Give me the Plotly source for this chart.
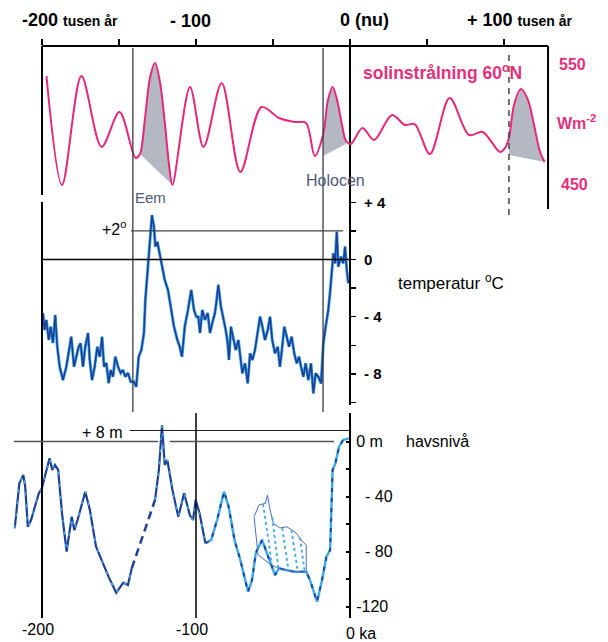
import plotly.graph_objects as go

W, H = 608, 642
def px(x): return x / W
def py(y): return 1 - y / H

# ---------------- data ----------------
# Summer insolation at 60°N (W m-2) vs time in ka (negative = past)
ins_ka = [-197.1, -187.0, -174.4, -161.3, -149.7, -139.2, -136.4, -133.1, -129.9, -126.6,
          -123.4, -120.1, -117.5, -115.3, -103.9, -95.1, -83.3, -71.2, -57.4, -46.1,
          -36.0, -28.6, -22.9, -17.5, -14.3, -11.3, -8.4, -5.2, -2.6, 0.5,
          8.1, 15.6, 27.3, 35.7, 42.0, 51.9, 64.7, 77.3, 86.1, 97.4,
          100.6, 103.2, 106.5, 111.0, 115.6, 119.5, 123.4, 126.4]
ins_w = [540.8, 450.0, 540.8, 481.7, 510.8, 472.5, 475.8, 505.8, 539.2, 551.7,
         535.8, 500.0, 466.7, 450.0, 531.7, 481.7, 535.0, 460.8, 515.0, 505.8,
         502.5, 501.7, 474.2, 491.7, 520.8, 531.7, 520.8, 500.0, 486.7, 484.2,
         497.5, 487.5, 508.3, 500.0, 500.8, 475.8, 522.5, 491.7, 494.2, 477.5,
         480.8, 489.2, 516.7, 530.0, 520.8, 500.0, 477.5, 469.2]

# shaded warm periods: curve span (ka) and chord end points (ka, W)
eem_span = (-136.4, -115.3)
holo_span = (-17.5, -2.6); holo_chord = [(-17.5, 474.2), (-2.6, 484.2)]
fut_span = (103.2, 126.4); fut_chord = [(103.2, 475.0)]

# Temperature (°C relative to today)
temp_ka = [-199.4, -198.3, -197.2, -195.6, -194.4, -192.9, -191.4, -190.1, -188.5, -186.4,
           -184.2, -182.0, -181.0, -179.2, -177.7, -176.2, -174.9, -173.4, -171.9, -170.1,
           -169.0, -167.5, -165.8, -164.1, -162.5, -161.0, -159.7, -158.2, -156.7, -155.4,
           -153.9, -152.4, -150.6, -148.9, -147.4, -145.9, -144.2, -142.4, -140.3, -138.8,
           -137.2, -135.5, -133.8, -132.9, -131.2, -130.1, -128.6, -127.3, -126.4, -125.1,
           -123.6, -122.1, -120.3, -118.2, -116.0, -114.3, -112.1, -110.6, -109.1, -107.3,
           -105.2, -103.1, -101.3, -99.8, -98.5, -97.4, -95.9, -94.2, -92.4, -90.9,
           -89.4, -87.7, -86.6, -85.5, -83.8, -82.3, -80.7, -79.4, -78.6, -77.3,
           -75.8, -74.2, -72.5, -71.4, -69.9, -68.2, -66.4, -64.9, -63.4, -61.7,
           -59.9, -58.4, -56.9, -55.2, -53.4, -51.9, -50.5, -48.7, -46.9, -45.5,
           -44.0, -42.7, -41.1, -39.6, -37.9, -36.2, -34.6, -33.1, -31.8, -30.3,
           -28.8, -27.1, -25.3, -23.8, -22.3, -20.6, -18.8, -17.3, -15.8, -14.1,
           -13.0, -11.9, -10.8, -9.7, -8.6, -7.6, -5.8, -4.4, -3.2, -2.1, -1.1]
temp_c = [-3.74, -4.93, -4.23, -5.63, -4.70, -5.84, -3.88, -6.10, -7.50, -8.43,
          -7.50, -5.84, -5.40, -7.50, -6.80, -6.10, -5.86, -7.50, -6.10, -5.14,
          -7.03, -8.43, -7.50, -6.10, -6.80, -5.40, -7.50, -7.24, -8.64, -7.73,
          -8.20, -6.80, -7.50, -7.94, -7.73, -8.20, -7.94, -8.55, -8.55, -8.90,
          -6.80, -6.33, -5.14, -2.83, -0.50, 1.36, 3.11, 2.29, 0.90, 1.24,
          0.43, -0.50, -1.43, -2.13, -3.53, -4.70, -5.63, -6.10, -6.80, -4.70,
          -3.53, -2.13, -3.53, -4.00, -4.00, -5.14, -3.53, -4.23, -3.74, -5.14,
          -4.44, -3.74, -2.83, -1.78, -3.30, -4.00, -4.93, -5.86, -7.03, -4.70,
          -5.63, -6.33, -5.63, -6.56, -7.96, -7.26, -8.66, -6.56, -7.03, -6.33,
          -5.16, -4.00, -4.70, -5.63, -4.93, -4.00, -5.63, -6.56, -6.10, -7.50,
          -6.10, -4.70, -5.40, -6.10, -5.40, -6.56, -7.26, -6.80, -7.50, -8.20,
          -7.26, -8.43, -7.26, -9.36, -7.96, -8.20, -8.66, -5.86, -4.70, -3.53,
          -2.36, -1.20, 0.43, -0.27, 1.94, -0.50, 0.20, -0.27, 0.90, -0.73, -1.66]
n = min(len(temp_ka), len(temp_c)); temp_ka, temp_c = temp_ka[:n], temp_c[:n]

# Sea level (m)
sea_ka = [-217.7, -216.0, -214.7, -212.1, -210.9, -209.2, -207.1, -202.1, -200.1, -197.6,
          -195.1, -193.3, -191.6, -189.5, -187.0, -184.0, -180.7, -179.0, -176.9, -171.9,
          -168.9, -164.9, -161.3, -156.8, -151.8, -147.2, -144.2, -141.7, -126.6, -124.1,
          -122.1, -120.3, -118.6, -115.3, -111.5, -107.7, -104.0, -101.9, -100.2, -97.7,
          -93.9, -90.1, -86.3, -81.8, -78.8, -75.0, -71.2, -66.2, -63.6, -61.2,
          -57.1, -53.2, -51.1, -48.7, -46.1, -41.6, -36.0, -28.4, -26.0, -21.4,
          -18.4, -15.3, -12.9, -11.3, -9.5, -7.1, -4.5, -0.8]
sea_m = [-63.1, -41.3, -30.4, -24.4, -32.9, -62.0, -57.1, -37.7, -34.0, -23.1,
         -12.2, -20.7, -17.1, -20.7, -52.2, -80.1, -54.7, -64.4, -57.1, -36.5,
         -49.8, -76.5, -86.2, -98.3, -110.0, -102.7, -104.4, -92.2, -42.5, -20.7,
         12.0, -17.1, -13.5, -35.3, -54.7, -37.7, -53.5, -57.1, -42.5, -52.2,
         -74.0, -71.6, -57.1, -36.5, -47.4, -71.6, -86.2, -109.2, -100.7, -81.1,
         -71.6, -82.5, -89.8, -97.1, -92.2, -93.5, -94.7, -94.7, -100.7, -116.5,
         -102.0, -83.8, -78.9, -20.7, -15.9, -3.8, 1.1, 2.3]
gap_span = (-141.7, -126.6)     # uncertain (dashed) part
light_from = -93.9              # light-blue dashed record from here on

# uncertainty band (ka, m)
band_ka = [-62.3, -59.1, -54.9, -53.6, -51.9, -49.8, -45.5, -41.0, -37.7, -34.7, -31.8, -28.4,
           -28.4, -36.0, -41.6, -46.1, -51.1, -55.2, -59.7, -62.3]
band_m = [-54.7, -46.2, -44.9, -38.9, -49.8, -59.5, -62.9, -62.0, -64.4, -66.8, -71.6, -75.3,
          -94.7, -94.7, -93.5, -92.2, -89.8, -86.2, -82.5, -54.7]
hatch = [  # dashed lines inside band
    ([-56.5, -54.5, -52.5, -51.0], [-45.5, -60.0, -75.0, -89.0]),
    ([-50.5, -48.5, -46.5], [-55.0, -75.0, -92.0]),
    ([-44.0, -42.0, -40.0], [-63.0, -78.0, -93.0]),
    ([-38.0, -36.0, -34.0], [-64.5, -80.0, -94.0]),
    ([-32.5, -31.0, -29.5], [-70.0, -82.0, -94.0]),
]

# reference marks (ka)
EEM, HOLO, FUT, RIGHT = -141.0, -17.5, 103.2, 128.6
top_ticks = [-200, -150, -100, -50, 0, 50, 100]
temp_ticks = [-10, -8, -6, -4, -2, 0, 2, 4]
temp_text = ['', '- 8', '', '- 4', '', '0', '', '+ 4']
sea_ticks = [-120, -100, -80, -60, -40, -20, 0]
sea_text = ['-120', '', '\u00a0\u00a0- 80', '', '\u00a0\u00a0- 40', '', '0 m']

# ---------------- scales ----------------
K = 1.54            # px per ka
X0 = 350            # px of 0 ka
x_range = [(0 - X0) / K, (W - X0) / K]
ins_range = [550 - (H - 65) / 1.2, 550 + 65 / 1.2]
TP = 14.3           # px per °C, 0 at y=259.5
SP = 1.375          # px per m, 0 at y=441.5

PINK = '#e6287a'
PINKT = '#e5307c'
DARK = '#1e3f96'
LIGHT = '#3fa9e6'
GREYB = '#4d5877'
FONT = 'Liberation Sans, Arial, sans-serif'

fig = go.Figure()

# insolation shading
def seg(lo, hi):
    pts = [(k, w) for k, w in zip(ins_ka, ins_w) if lo - 1e-6 <= k <= hi + 1e-6]
    return pts
polys = [seg(*eem_span),
         [holo_chord[0]] + seg(*holo_span) + [holo_chord[1]],
         fut_chord + seg(*fut_span)]
for p in polys:
    fig.add_trace(go.Scatter(x=[a for a, b in p], y=[b for a, b in p], xaxis='x2', yaxis='y2',
                             fill='toself', fillcolor='#b3b8c2', line=dict(width=0),
                             mode='lines', hoverinfo='skip', showlegend=False))
fig.add_trace(go.Scatter(x=ins_ka, y=ins_w, xaxis='x2', yaxis='y2', mode='lines',
                         line=dict(color=PINK, width=2, shape='spline', smoothing=0.9),
                         showlegend=False))

# temperature
fig.add_trace(go.Scatter(x=temp_ka, y=temp_c, xaxis='x', yaxis='y', mode='lines',
                         line=dict(color=LIGHT, width=3), showlegend=False))
fig.add_trace(go.Scatter(x=temp_ka, y=temp_c, xaxis='x', yaxis='y', mode='lines',
                         line=dict(color=DARK, width=1.6), showlegend=False))

# sea level
def sub(lo, hi):
    pts = [(k, m) for k, m in zip(sea_ka, sea_m) if lo - 1e-6 <= k <= hi + 1e-6]
    return [a for a, b in pts], [b for a, b in pts]
ax, am = sub(-999, gap_span[0])
bx, bm = sub(*gap_span)
cx, cm = sub(gap_span[1], light_from)
dx, dm = sub(light_from, 999)
for xs, ys in [(ax, am), (cx, cm)]:
    fig.add_trace(go.Scatter(x=xs, y=ys, xaxis='x', yaxis='y3', mode='lines',
                             line=dict(color=DARK, width=2.2), showlegend=False))
    fig.add_trace(go.Scatter(x=xs, y=ys, xaxis='x', yaxis='y3', mode='lines',
                             line=dict(color=LIGHT, width=1.5, dash='3px,9px'), showlegend=False))
fig.add_trace(go.Scatter(x=bx, y=bm, xaxis='x', yaxis='y3', mode='lines',
                         line=dict(color=DARK, width=2.5, dash='8px,5px'), showlegend=False))
fig.add_trace(go.Scatter(x=dx, y=dm, xaxis='x', yaxis='y3', mode='lines',
                         line=dict(color=LIGHT, width=2.5), showlegend=False))
fig.add_trace(go.Scatter(x=dx, y=dm, xaxis='x', yaxis='y3', mode='lines',
                         line=dict(color=DARK, width=1.8, dash='4px,6px'), showlegend=False))
fig.add_trace(go.Scatter(x=band_ka, y=band_m, xaxis='x', yaxis='y3', mode='lines',
                         line=dict(color='#4a6fc0', width=1), showlegend=False))
for hx, hy in hatch:
    fig.add_trace(go.Scatter(x=hx, y=hy, xaxis='x', yaxis='y3', mode='lines',
                             line=dict(color=LIGHT, width=1.8, dash='3px,3px'), showlegend=False))

# ---------------- axes ----------------
fig.update_layout(
    width=W, height=H, margin=dict(l=0, r=0, t=0, b=0),
    paper_bgcolor='white', plot_bgcolor='rgba(0,0,0,0)',
    font=dict(family=FONT, color='black'),
    xaxis=dict(domain=[0, 1], range=x_range, visible=False, anchor='y'),
    xaxis2=dict(domain=[px(42), px(548)], range=[(42 - X0) / K, (548 - X0) / K],
                anchor='free', position=py(46), side='top', showline=True, linewidth=2,
                linecolor='black', ticks='outside', ticklen=6, tickwidth=2, tickcolor='black',
                tickvals=top_ticks, showticklabels=False, showgrid=False, zeroline=False),
    yaxis2=dict(domain=[0, 1], range=ins_range, visible=False, anchor='x2'),
    yaxis=dict(domain=[py(405), py(40)], range=[(259.5 - 405) / TP, (259.5 - 40) / TP],
               anchor='free', position=px(350), side='right', showline=True, linewidth=2,
               linecolor='black', ticks='outside', ticklen=5, tickwidth=1.5, tickcolor='black',
               tickvals=temp_ticks, ticktext=temp_text, showgrid=False, zeroline=False,
               tickfont=dict(size=15, family=FONT, weight='bold'), ticklabelstandoff=5),
    yaxis3=dict(domain=[py(618), py(413)], range=[(441.5 - 618) / SP, (441.5 - 413) / SP],
                anchor='free', position=px(350), side='right', showline=True, linewidth=2,
                linecolor='black', ticks='inside', ticklen=3, tickwidth=2, tickcolor='black',
                tickvals=sea_ticks, ticktext=sea_text, showgrid=False, zeroline=False,
                tickfont=dict(size=16, family=FONT), ticklabelstandoff=2),
)

# ---------------- frame / reference lines ----------------
def vline(k, y0, y1, color='black', width=2, dash=None):
    fig.add_shape(type='line', xref='x', yref='paper', x0=k, x1=k, y0=py(y0), y1=py(y1),
                  line=dict(color=color, width=width, dash=dash))
vline(-200, 46, 195)
vline(-200, 202, 618)
vline(RIGHT, 46, 209)
vline(EEM, 48, 412, '#3a3a44', 1.3)
vline(HOLO, 48, 412, '#3a3a44', 1.3)
vline(FUT, 55, 218, '#444444', 1.5, '6px,5px')
vline(-100, 413, 618, 'black', 1.5)

def hline(yref, v, k0, k1, color='black', width=1.4):
    fig.add_shape(type='line', xref='x', yref=yref, x0=k0, x1=k1, y0=v, y1=v,
                  line=dict(color=color, width=width))
hline('y', 0, -200, 0)
hline('y', 2, -142.2, -4.5, '#444444', 1.2)
hline('y3', 0, -218.2, -124.5, '#555555', 1.4)
hline('y3', 0, -117.0, -10.4, '#555555', 1.4)
hline('y3', 8, -143.0, 0, '#222222', 1.2)

# ---------------- text ----------------
def txt(s, x, y, size=16, color='black', bold=False, anchor='left'):
    fig.add_annotation(text=s, x=px(x), y=py(y), xref='paper', yref='paper',
                       xanchor=anchor, yanchor='middle', showarrow=False,
                       font=dict(family=FONT, size=size, color=color,
                                 weight='bold' if bold else 'normal'))
SMALL = '<span style="font-size:14px">%s</span>'
txt('-200 ' + SMALL % 'tusen år', 20, 20, 18, bold=True)
txt('- 100', 168, 21, 18, bold=True)
txt('0 (nu)', 338, 20, 18, bold=True)
txt('+ 100 ' + SMALL % 'tusen år', 465, 20, 18, bold=True)
txt('solinstrålning 60<sup>o</sup>N', 361, 72, 17.5, PINKT, bold=True)
txt('550', 557, 65, 16, PINKT, bold=True)
txt('Wm<sup>-2</sup>', 555, 122, 16, PINKT, bold=True)
txt('450', 559, 184, 16, PINKT, bold=True)
txt('Eem', 133, 197, 15, GREYB)
txt('Holocen', 304, 181, 16, GREYB)
txt('+2<sup>o</sup>', 100, 228, 16)
txt('temperatur <sup>o</sup>C', 396, 282, 17)
txt('+ 8 m', 80, 432, 16)
txt('havsnivå', 404, 441, 16)
txt('-200', 20, 629, 16)
txt('-100', 174, 629, 16)
txt('0 ka', 344, 633, 16)

fig.write_html('out.html', config={'displayModeBar': False, 'staticPlot': True},
               post_script="document.body.style.margin='0';document.body.style.padding='0';"
                           "document.documentElement.style.overflow='hidden';")
